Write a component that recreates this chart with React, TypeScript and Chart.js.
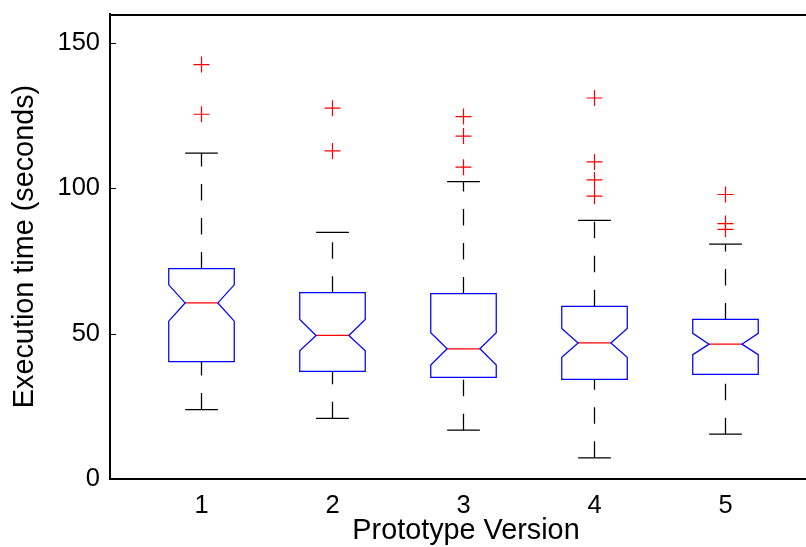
import React, { useEffect, useRef } from 'react';
import { Chart, registerables } from 'chart.js';

Chart.register(...registerables);

// ---- data ----
const VERSIONS = [1, 2, 3, 4, 5];
const Q1 = [40.4, 37.0, 35.0, 34.3, 36.0];
const Q3 = [72.4, 64.1, 63.8, 59.4, 54.9];
const MEDIAN = [60.6, 49.4, 44.8, 46.8, 46.4];
const NOTCH_LO = [54.3, 44.1, 39.2, 41.9, 42.8];
const NOTCH_HI = [66.8, 54.9, 50.3, 51.8, 50.1];
const WHISKER_LO = [23.9, 20.9, 16.8, 7.3, 15.4];
const WHISKER_HI = [112.1, 84.9, 102.3, 89.0, 80.8];
const OUTLIERS_1 = [142.6, 125.5];
const OUTLIERS_2 = [127.6, 112.9];
const OUTLIERS_3 = [124.7, 118.0, 107.3];
const OUTLIERS_4 = [131.1, 109.1, 102.9, 97.3];
const OUTLIERS_5 = [97.9, 87.9, 85.9];
const OUTLIERS = [OUTLIERS_1, OUTLIERS_2, OUTLIERS_3, OUTLIERS_4, OUTLIERS_5];
const Y_TICKS = [0, 50, 100, 150];
const X_TITLE = 'Prototype Version';
const Y_TITLE = 'Execution time (seconds)';

// ---- layout / style ----
const Y_MIN = 0;
const Y_MAX = 160;
const X_MIN = 0.30153;
const X_MAX = 5.73664;
const BOX_HALF = 0.25;
const NOTCH_HALF = 0.125;
const CAP_HALF = 0.125;
const FONT = "'Liberation Sans', Arial, Helvetica, sans-serif";
const BLUE = '#0000ff';
const RED = '#ff0000';
const BLACK = '#000000';

const lineBase = {
  showLine: true,
  pointRadius: 0,
  pointHoverRadius: 0,
  fill: false,
  tension: 0,
  borderWidth: 1.25,
};

function buildDatasets() {
  const ds: any[] = [];
  VERSIONS.forEach((v, i) => {
    ds.push({
      ...lineBase,
      data: [{ x: v, y: WHISKER_LO[i] }, { x: v, y: Q1[i] }],
      borderColor: BLACK,
      borderDash: [16.5, 17.5],
    });
    ds.push({
      ...lineBase,
      data: [{ x: v, y: Q3[i] }, { x: v, y: WHISKER_HI[i] }],
      borderColor: BLACK,
      borderDash: [16.5, 17.5],
    });
    ds.push({
      ...lineBase,
      data: [{ x: v - CAP_HALF, y: WHISKER_LO[i] }, { x: v + CAP_HALF, y: WHISKER_LO[i] }],
      borderColor: BLACK,
    });
    ds.push({
      ...lineBase,
      data: [{ x: v - CAP_HALF, y: WHISKER_HI[i] }, { x: v + CAP_HALF, y: WHISKER_HI[i] }],
      borderColor: BLACK,
    });
    ds.push({
      ...lineBase,
      borderColor: BLUE,
      borderJoinStyle: 'miter',
      borderCapStyle: 'square',
      data: [
        { x: v - BOX_HALF, y: Q1[i] },
        { x: v - BOX_HALF, y: NOTCH_LO[i] },
        { x: v - NOTCH_HALF, y: MEDIAN[i] },
        { x: v - BOX_HALF, y: NOTCH_HI[i] },
        { x: v - BOX_HALF, y: Q3[i] },
        { x: v + BOX_HALF, y: Q3[i] },
        { x: v + BOX_HALF, y: NOTCH_HI[i] },
        { x: v + NOTCH_HALF, y: MEDIAN[i] },
        { x: v + BOX_HALF, y: NOTCH_LO[i] },
        { x: v + BOX_HALF, y: Q1[i] },
        { x: v - BOX_HALF, y: Q1[i] },
      ],
    });
    ds.push({
      ...lineBase,
      data: [{ x: v - NOTCH_HALF, y: MEDIAN[i] }, { x: v + NOTCH_HALF, y: MEDIAN[i] }],
      borderColor: RED,
    });
    ds.push({
      data: OUTLIERS[i].map((y) => ({ x: v, y })),
      showLine: false,
      pointStyle: 'cross',
      pointRadius: 8,
      pointHoverRadius: 8,
      borderColor: RED,
      pointBorderColor: RED,
      pointBorderWidth: 1.2,
    });
  });
  return ds;
}

const framePlugin = {
  id: 'frame',
  afterDatasetsDraw(chart: any) {
    const { ctx, chartArea, scales } = chart;
    const { left, right, top } = chartArea;
    const y = scales.y;
    ctx.save();
    ctx.strokeStyle = BLACK;
    ctx.lineWidth = 2;
    ctx.beginPath();
    ctx.moveTo(left - 1, top + 1);
    ctx.lineTo(right, top + 1);
    ctx.stroke();
    ctx.lineWidth = 1;
    y.ticks.forEach((t: any) => {
      const py = Math.round(y.getPixelForValue(t.value)) + 0.5;
      ctx.beginPath();
      ctx.moveTo(left, py);
      ctx.lineTo(left + 6, py);
      ctx.stroke();
    });
    ctx.restore();
  },
};

export default function App() {
  const ref = useRef<HTMLCanvasElement | null>(null);
  useEffect(() => {
    if (!ref.current) return;
    const chart = new Chart(ref.current, {
      type: 'line',
      data: { datasets: buildDatasets() },
      options: {
        responsive: false,
        animation: false,
        devicePixelRatio: 1,
        layout: { autoPadding: false, padding: { top: 14, right: 8, bottom: 0, left: 0 } },
        plugins: { legend: { display: false }, tooltip: { enabled: false } },
        events: [],
        scales: {
          x: {
            type: 'linear',
            min: X_MIN,
            max: X_MAX,
            afterBuildTicks: (s: any) => {
              s.ticks = VERSIONS.map((value) => ({ value }));
            },
            afterFit: (s: any) => {
              s.height = 68;
              s.paddingLeft = 0;
              s.paddingRight = 0;
            },
            grid: { display: false, drawTicks: false, tickLength: 0 },
            border: { display: true, color: BLACK, width: 2 },
            ticks: {
              padding: 12,
              color: BLACK,
              autoSkip: false,
              maxRotation: 0,
              font: { family: FONT, size: 25.5 },
              callback: (v: any) => String(v),
            },
            title: {
              display: true,
              text: X_TITLE,
              color: BLACK,
              font: { family: FONT, size: 28.8 },
              padding: { top: 0, bottom: -1 },
            },
          },
          y: {
            type: 'linear',
            min: Y_MIN,
            max: Y_MAX,
            afterBuildTicks: (s: any) => {
              s.ticks = Y_TICKS.map((value) => ({ value }));
            },
            afterFit: (s: any) => {
              s.width = 110;
              s.paddingTop = 0;
              s.paddingBottom = 0;
            },
            grid: { display: false, drawTicks: false, tickLength: 0 },
            border: { display: true, color: BLACK, width: 2 },
            ticks: {
              padding: 10,
              color: BLACK,
              font: { family: FONT, size: 25.5 },
              callback: (v: any) => String(v),
            },
            title: {
              display: true,
              text: Y_TITLE,
              color: BLACK,
              font: { family: FONT, size: 28.8 },
              padding: { top: 8, bottom: 0 },
            },
          },
        },
      },
      plugins: [framePlugin],
    } as any);
    return () => chart.destroy();
  }, []);
  return (
    <div style={{ position: 'absolute', left: 0, top: 0, width: 806, height: 547, overflow: 'hidden', background: '#fff' }}>
      <canvas ref={ref} width={830} height={547} style={{ display: 'block' }} />
    </div>
  );
}
